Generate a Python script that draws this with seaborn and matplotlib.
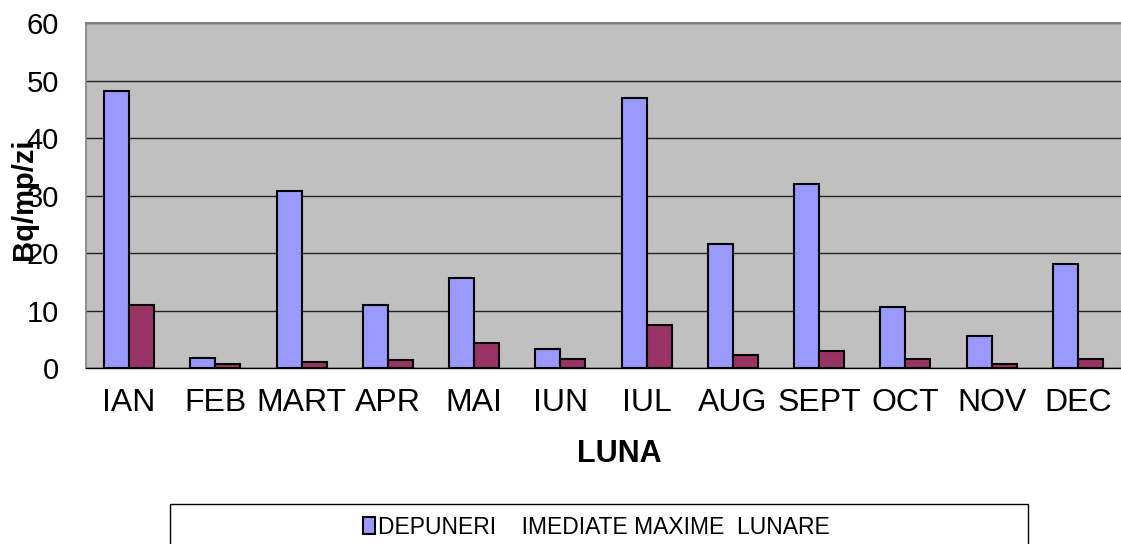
import numpy as np
import pandas as pd
import seaborn as sns
import matplotlib.pyplot as plt
from matplotlib.patches import Rectangle, Patch

# === Date ===
luni = ['IAN', 'FEB', 'MART', 'APR', 'MAI', 'IUN', 'IUL', 'AUG', 'SEPT', 'OCT', 'NOV', 'DEC']
maxime = [48.2, 1.85, 30.9, 11.0, 15.7, 3.35, 47.0, 21.7, 32.1, 10.6, 5.6, 18.1]
medii = [11.0, 0.75, 1.1, 1.45, 4.4, 1.55, 7.5, 2.35, 3.0, 1.6, 0.8, 1.6]
serie = ['DEPUNERI    IMEDIATE MAXIME  LUNARE', 'DEPUNERI    IMEDIATE MEDII  LUNARE']
culori = ['#9999FF', '#993366']

df = pd.DataFrame({
    'luna': luni * 2,
    'val': maxime + medii,
    'serie': [serie[0]] * len(luni) + [serie[1]] * len(luni),
})

sns.set_style('white')
plt.rcParams['font.family'] = ['Liberation Sans', 'DejaVu Sans']
plt.rcParams['text.color'] = 'black'
plt.rcParams['xtick.color'] = 'black'
plt.rcParams['ytick.color'] = 'black'

W, H = 1121, 544
fig = plt.figure(figsize=(W / 100, H / 100), dpi=100)
ax = fig.add_axes([86 / W, 1 - 368.3 / H, (W - 86) / W, 345 / H])
ax.set_facecolor('#C0C0C0')

sns.barplot(data=df, x='luna', y='val', hue='serie', palette=culori,
            width=0.58, edgecolor='black', linewidth=1.5, legend=False,
            saturation=1, ax=ax, zorder=3)

ax.set_ylim(0, 60)
ax.set_xlim(-0.5, len(luni) - 0.5)
ax.set_yticks(np.arange(0, 61, 10))
ax.yaxis.grid(True, color='#222222', linewidth=1)
ax.set_axisbelow(True)

# etichete pe ticks minore, linii pe granite
ax.set_xticks(np.arange(-0.5, len(luni), 1))
ax.set_xticklabels([])
ax.set_xticks(np.arange(len(luni)), minor=True)
ax.set_xticklabels(luni, minor=True, fontsize=23)
ax.tick_params(axis='x', which='major', direction='out', length=7, width=1, color='black')
ax.tick_params(axis='x', which='minor', length=0, pad=14)
ax.tick_params(axis='y', direction='out', length=6.5, width=1, color='black', labelsize=21, pad=13)
ax.set_xlabel('')
ax.set_ylabel('')

ax.spines['right'].set_visible(False)
ax.spines['top'].set_color('#808080')
ax.spines['top'].set_linewidth(1.5)
ax.spines['left'].set_color('#808080')
ax.spines['left'].set_linewidth(1.2)
ax.spines['bottom'].set_color('black')
ax.spines['bottom'].set_linewidth(1)

fig.text(24 / W, 1 - 199 / H, 'Bq/mp/zi', rotation=90, ha='center', va='center',
         fontsize=21, fontweight='bold')
fig.text(619 / W, 1 - 454 / H, 'LUNA', ha='center', va='center',
         fontsize=22, fontweight='bold')

# cadru legenda (taiat jos in original, se vede doar prima serie)
fig.patches.append(Rectangle((170 / W, 1 - 600 / H), (1028 - 170) / W, (600 - 504) / H,
                             transform=fig.transFigure, facecolor='white',
                             edgecolor='black', linewidth=1, zorder=1))
handles = [Patch(facecolor=culori[0], edgecolor='black', linewidth=1.5)]
fig.legend(handles, serie[:1], loc='center', bbox_to_anchor=(596 / W, 1 - 527 / H),
           ncol=1, frameon=False, fontsize=16.5, handlelength=0.55, handleheight=0.75,
           handletextpad=0.1, borderaxespad=0, borderpad=0)

fig.savefig('out.png', dpi=100)
